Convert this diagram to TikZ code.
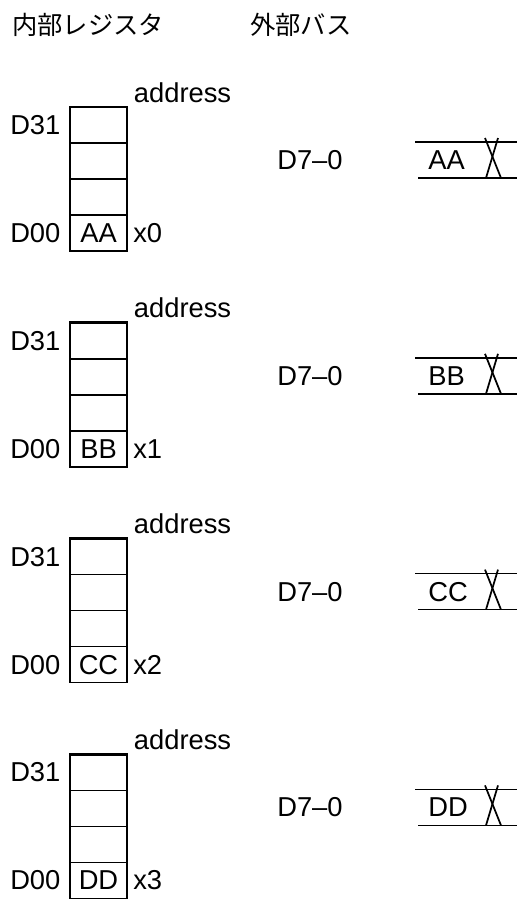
\documentclass[tikz,border=0pt]{standalone}
\usepackage{fontspec}
\setmainfont{Liberation Sans}
\newfontfamily\jpfont{Noto Sans CJK JP}
\usetikzlibrary{positioning}

\begin{document}
\begin{tikzpicture}[x=0.75pt, y=-0.75pt,
  font=\fontsize{20.5}{24}\selectfont,
  cell/.style={draw, line width=1.3pt, minimum width=42.75pt, minimum height=27pt,
               inner sep=0pt, outer sep=0pt},
  txt/.style={inner sep=0pt},
  jp/.style={txt, anchor=west, font=\jpfont\fontsize{19}{22}\selectfont},
  frame/.style={line width=2.2pt},
  busline/.style={line width=1.3pt}]
  \useasboundingbox (0,0) rectangle (517,900);
  \node[jp] (hdreg) at (12,25) {内部レジスタ};
  \node[jp] (hdbus) at (250,25) {外部バス};
  \foreach \d [count=\i from 0] in {AA,BB,CC,DD} {
    \pgfmathsetmacro\yo{107+215.8*\i}
    % register, D31 on top
    \node[cell] (r\i-1) at (98.5,\yo+18) {};
    \node[cell, below=0pt of r\i-1] (r\i-2) {};
    \node[cell, below=0pt of r\i-2] (r\i-3) {};
    \node[cell, below=0pt of r\i-3] (r\i-4) {\d};
    \draw[frame] (r\i-4.south west) |- (r\i-1.north east) -- (r\i-4.south east);
    \node[txt, left=7pt of r\i-1] (hi\i) {D31};
    \node[txt, left=7pt of r\i-4] (lo\i) {D00};
    \node[txt, right=4.5pt of r\i-4] (idx\i) {x\i};
    \node[txt, anchor=base west] (adr\i) at ([xshift=5pt, yshift=3.75pt]r\i-1.north east) {address};
    % external bus
    \node[txt, anchor=west] (bus\i) at (277,\yo+53) {D7–0};
    \node[txt, anchor=west] (dat\i) at (428,\yo+53) {\d};
    \coordinate (ta\i) at (415,\yo+35);
    \coordinate (tb\i) at (517,\yo+35);
    \coordinate (ba\i) at (418,\yo+71);
    \coordinate (bb\i) at (517,\yo+71);
    \coordinate (xa\i) at (485,\yo+31);
    \coordinate (xb\i) at (501,\yo+71);
    \coordinate (xc\i) at (498,\yo+31);
    \coordinate (xd\i) at (486,\yo+71);
    \draw[busline] (ta\i) -- (tb\i);
    \draw[busline] (ba\i) -- (bb\i);
    \draw[busline] (xa\i) -- (xb\i);
    \draw[busline] (xc\i) -- (xd\i);
  }
\end{tikzpicture}
\end{document}
